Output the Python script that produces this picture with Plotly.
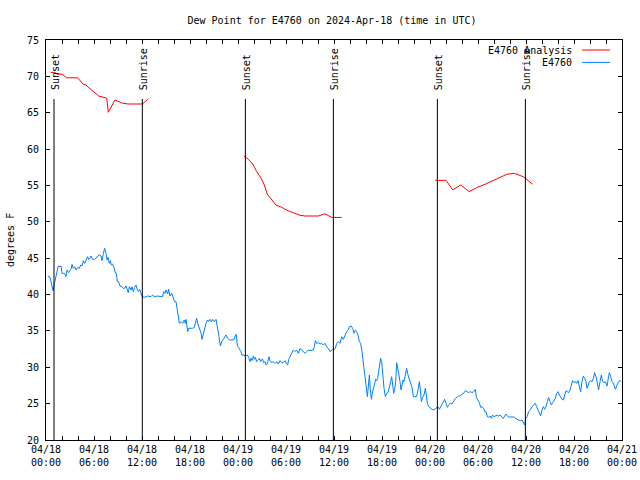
import plotly.graph_objects as go

# ---------------- data ----------------
# hours since 2024-04-18 00:00 UTC
obs_hours = [0.21, 0.5, 0.63, 0.75, 0.88, 0.96, 1.08, 1.25, 1.42, 1.54, 1.75, 1.88, 2.0, 2.29, 2.5, 2.63, 2.83, 3.0, 3.17, 3.25,
             3.42, 3.58, 3.75, 3.96, 4.17, 4.33, 4.5, 4.67, 4.83, 5.0, 5.21, 5.33, 5.5, 5.63, 5.83, 6.08, 6.25, 6.46, 6.67, 6.88,
             7.0, 7.17, 7.33, 7.5, 7.63, 7.75, 7.92, 8.04, 8.17, 8.33, 8.54, 8.67, 8.79, 8.92, 9.08, 9.25, 9.5, 9.67, 9.83, 10.0,
             10.13, 10.29, 10.42, 10.63, 10.75, 10.92, 11.08, 11.25, 11.42, 11.58, 11.71, 11.88, 12.0, 12.29, 12.71, 13.13, 13.33,
             13.54, 13.96, 14.38, 14.58, 14.71, 14.88, 15.0, 15.21, 15.33, 15.5, 15.71, 15.92, 16.08, 16.25, 16.38, 16.54, 16.67,
             16.88, 17.08, 17.29, 17.42, 17.5, 17.63, 17.71, 17.83, 18.0, 18.33, 18.54, 18.67, 18.83, 18.96, 19.08, 19.25, 19.38,
             19.5, 19.67, 19.83, 20.0, 20.17, 20.33, 20.5, 20.67, 20.83, 21.04, 21.25, 21.38, 21.5, 21.63, 21.79, 21.96, 22.17,
             22.33, 22.5, 22.71, 22.92, 23.25, 23.54, 23.67, 23.79, 23.92, 24.08, 24.25, 24.38,
             24.46, 24.75, 24.92, 25.17, 25.33, 25.5, 25.63, 25.75, 25.92, 26.04, 26.17, 26.33, 26.54, 26.67, 26.83, 26.96, 27.08,
             27.21, 27.38, 27.5, 27.67, 27.88, 28.0, 28.21, 28.42, 28.63, 28.83, 29.04, 29.25, 29.46, 29.67, 29.88, 30.08, 30.21,
             30.33, 30.5, 30.71, 30.92, 31.13, 31.33, 31.54, 31.75, 31.96, 32.17, 32.38, 32.58, 32.79, 33.0, 33.21, 33.42, 33.54,
             33.67, 33.83, 34.04, 34.25, 34.46, 34.67, 34.88, 35.08, 35.29, 35.5, 35.67, 35.83, 36.0, 36.17, 36.33, 36.54, 36.75,
             36.96, 37.17, 37.38, 37.58, 37.79, 37.92, 38.13, 38.33, 38.5, 38.67, 38.83, 39.0, 39.17, 39.33, 39.5, 39.67, 39.79,
             39.92, 40.04, 40.17, 40.29, 40.42, 40.54, 40.67, 40.79, 40.92, 41.08, 41.21, 41.33, 41.46, 41.58, 41.71, 41.83, 41.96,
             42.08, 42.25, 42.42, 42.58, 42.75, 42.92, 43.08, 43.21, 43.33, 43.46, 43.58, 43.71, 43.83, 43.96, 44.08, 44.25, 44.38,
             44.5, 44.63, 44.75, 44.92, 45.08, 45.25, 45.42, 45.58, 45.75, 45.92, 46.13, 46.33, 46.54, 46.67,
             46.79, 46.92, 47.08, 47.25, 47.42, 47.54, 47.67, 47.83, 48.04, 48.25, 48.46, 48.67, 48.83, 49.0, 49.17, 49.33, 49.5,
             49.67, 49.83, 50.0, 50.17, 50.33, 50.54, 50.75, 50.96, 51.17, 51.38, 51.58, 51.79, 52.0, 52.21, 52.42, 52.63, 52.83,
             53.04, 53.25, 53.46, 53.67, 53.79, 53.96, 54.17, 54.33, 54.5, 54.71, 54.83, 55.0, 55.17, 55.33, 55.5, 55.67, 55.83,
             56.0, 56.17, 56.38, 56.58, 56.79, 57.0, 57.17, 57.33, 57.5, 57.67, 57.83, 58.04, 58.25, 58.46, 58.67, 58.88, 59.08,
             59.29, 59.5, 59.67, 59.83, 59.96, 60.13, 60.33, 60.54, 60.75, 60.96, 61.17, 61.33, 61.5, 61.67, 61.83, 62.0, 62.17,
             62.33, 62.5, 62.67, 62.83, 63.0, 63.17, 63.33, 63.5, 63.67, 63.83, 64.0, 64.17, 64.33, 64.5, 64.67, 64.83, 65.0,
             65.17, 65.33, 65.5, 65.67, 65.83, 66.0, 66.17, 66.33, 66.5, 66.67, 66.83, 67.0, 67.17, 67.33, 67.5, 67.63, 67.75,
             67.92, 68.08, 68.25, 68.42, 68.58, 68.75, 68.92, 69.08, 69.25, 69.42, 69.58, 69.75, 69.92, 70.13, 70.25, 70.42,
             70.58, 70.75, 70.96, 71.17, 71.38, 71.58, 71.79, 71.92]
obs_dewpt = [42.55, 42.37, 41.77, 41.08, 40.53, 41.08, 41.63, 42.69, 43.15, 43.93, 43.83, 43.93, 42.92, 42.92, 42.46, 43.38, 43.01,
             43.28, 43.6, 44.15, 43.6, 43.83, 43.38, 43.74, 43.6, 44.06, 43.93, 44.66, 44.29, 44.66, 45.21, 44.84, 44.98, 45.3,
             44.84, 44.84, 44.98, 45.3, 45.44, 45.3, 44.66, 45.67, 46.35, 45.67, 44.75, 45.12, 44.29, 44.66, 44.06, 44.2, 43.6,
             42.92, 42.92, 41.77, 41.77, 41.18, 41.08, 40.85, 40.85, 41.18, 40.63, 40.26, 41.08, 40.63, 41.08, 40.4, 40.99, 41.31,
             40.63, 40.4, 40.72, 40.17, 39.71, 39.62, 39.8, 39.71, 39.94, 39.71, 39.8, 39.71, 39.71, 40.4, 40.17, 40.63, 40.08,
             40.72, 39.8, 40.17, 39.48, 39.02, 39.02, 38.1, 36.73, 36.04, 36.27, 36.04, 36.5, 36.04, 36.59, 35.58, 34.9, 35.36,
             35.36, 35.36, 35.49, 36.27, 36.73, 36.04, 35.68, 35.13, 34.67, 33.84, 34.67, 35.49, 36.04, 36.5, 36.27, 36.59, 36.27,
             36.59, 36.27, 36.59, 35.81, 35.49, 34.21, 32.93, 33.52, 33.84, 34.21, 34.44, 33.98, 33.75, 33.75, 33.84, 34.44, 34.53,
             32.93, 32.74, 32.38, 32.15,
             31.69, 31.69, 31.55, 31.69, 31.37, 30.77, 31.23, 30.91, 31.55, 31.09, 31.37, 30.77, 31.0, 31.23, 30.77, 31.09, 31.09,
             30.63, 30.77, 30.31, 30.54, 31.46, 30.91, 30.63, 30.77, 30.54, 30.77, 30.45, 30.91, 30.63, 30.63, 30.91, 30.45, 30.31,
             31.09, 31.46, 31.83, 32.38, 32.15, 32.38, 31.92, 32.6, 32.38, 32.15, 31.92, 32.15, 32.38, 32.28, 32.38, 32.38, 32.83,
             33.66, 33.29, 33.38, 33.2, 33.29, 33.06, 33.29, 32.83, 32.6, 32.15, 32.38, 32.47, 32.38, 32.6, 33.29, 33.52, 33.29,
             34.21, 33.84, 34.44, 34.9, 35.13, 35.58, 35.68, 35.35, 34.67, 35.13, 34.9, 34.44, 33.52, 33.29, 32.15, 30.54, 28.94,
             27.56, 26.65, 25.96, 27.33, 28.94, 26.88, 25.59, 26.42, 27.11, 27.79, 28.34, 28.16, 28.48, 29.4, 30.31, 31.23, 30.77,
             28.94, 27.11, 25.96, 26.42, 26.51, 27.11, 28.02, 28.71, 27.33, 26.42, 26.97, 28.02, 30.63, 30.08, 29.17, 28.02, 26.88,
             27.56, 28.25, 28.02, 28.94, 29.85, 28.94, 28.25, 27.79, 27.24, 25.96, 25.96, 25.96, 27.11, 28.02,
             26.88, 25.28, 25.87, 26.19, 27.11, 25.73, 25.04, 24.58, 24.36, 24.22, 24.13, 24.36, 24.49, 24.58, 24.22, 24.58, 25.04,
             25.27, 25.59, 25.04, 24.49, 24.81, 25.04, 24.95, 25.27, 25.73, 25.87, 26.05, 26.05, 26.33, 26.42, 26.78, 26.65, 26.51,
             26.65, 26.51, 26.65, 26.97, 25.87, 25.5, 25.13, 24.49, 24.58, 24.36, 23.9, 23.9, 23.2, 23.12, 23.3, 22.98, 23.43,
             23.2, 23.3, 23.43, 23.3, 23.43, 23.12, 22.98, 23.3, 23.57, 23.3, 23.12, 23.2, 23.12, 23.2, 22.98, 22.84, 22.75,
             22.66, 22.75, 22.29, 22.06, 22.98, 23.2, 23.9, 24.13, 24.58, 24.81, 25.04, 24.58, 24.13, 23.67, 23.3, 24.13, 24.58,
             24.22, 24.58, 25.27, 25.87, 25.27, 24.81, 25.13, 25.5, 25.73, 26.42, 26.65, 26.19, 25.87, 25.59, 25.5, 26.19, 26.78,
             26.65, 26.51, 26.88, 27.56, 28.16, 27.89, 28.02, 27.79, 28.16, 27.33, 26.65, 28.02, 28.8, 28.48, 28.02, 27.1, 27.56,
             28.02, 28.16, 28.02, 28.48, 29.26, 28.71, 27.56, 26.88, 28.02, 28.94, 28.02, 27.89, 28.02, 27.43, 28.25, 29.26,
             28.71, 28.02, 27.7, 26.97, 27.56, 28.02, 28.16, 28.02]

# analysis, three separate segments
ana1_hours = [0.59, 1.12, 1.37, 2.0, 2.59, 3.96, 4.62, 5.0, 5.71, 6.59, 7.59, 7.79, 8.62, 9.59, 10.29, 12.04, 12.79]
ana1_dewpt = [70.55, 70.55, 70.3, 70.3, 69.8, 69.8, 68.95, 68.8, 68.1, 67.3, 67.0, 65.06, 66.75, 66.3, 66.2, 66.2, 66.9]
ana2_hours = [24.75, 25.29, 25.84, 26.34, 26.88, 27.29, 27.66, 28.21, 28.75, 29.46, 30.09, 30.91, 31.75, 32.38, 34.04, 34.88, 35.71, 36.96]
ana2_dewpt = [59.05, 58.6, 57.95, 56.9, 56.0, 55.06, 53.8, 53.1, 52.3, 52.0, 51.6, 51.25, 50.9, 50.8, 50.8, 51.1, 50.6, 50.6]
ana3_hours = [48.63, 50.0, 50.84, 51.84, 52.91, 53.84, 54.88, 55.84, 56.75, 57.59, 58.54, 59.66, 60.84]
ana3_dewpt = [55.7, 55.7, 54.4, 55.06, 54.15, 54.7, 55.16, 55.65, 56.2, 56.53, 56.67, 56.2, 55.16]

sun_hours = [1.0, 12.04, 24.92, 35.92, 48.92, 59.92]
sun_labels = ["Sunset", "Sunrise", "Sunset", "Sunrise", "Sunset", "Sunrise"]

x_tick_hours = [0, 6, 12, 18, 24, 30, 36, 42, 48, 54, 60, 66, 72]
x_tick_labels = ["04/18<br>00:00", "04/18<br>06:00", "04/18<br>12:00", "04/18<br>18:00",
                 "04/19<br>00:00", "04/19<br>06:00", "04/19<br>12:00", "04/19<br>18:00",
                 "04/20<br>00:00", "04/20<br>06:00", "04/20<br>12:00", "04/20<br>18:00",
                 "04/21<br>00:00"]
y_ticks = [20, 25, 30, 35, 40, 45, 50, 55, 60, 65, 70, 75]

legend_names = ["E4760 Analysis", "E4760"]
RED = "#ff0000"
BLUE = "#0080ff"
FONT = "DejaVu Sans Mono"

# ---------------- figure ----------------
ana_x = ana1_hours + [None] + ana2_hours + [None] + ana3_hours
ana_y = ana1_dewpt + [None] + ana2_dewpt + [None] + ana3_dewpt

fig = go.Figure()
fig.add_trace(go.Scatter(x=ana_x, y=ana_y, mode="lines", name=legend_names[0],
                         line=dict(color=RED, width=1), connectgaps=False, showlegend=False))
fig.add_trace(go.Scatter(x=obs_hours, y=obs_dewpt, mode="lines", name=legend_names[1],
                         line=dict(color=BLUE, width=1), showlegend=False))

for h, lab in zip(sun_hours, sun_labels):
    fig.add_shape(type="line", xref="x", yref="paper", x0=h, x1=h, y0=0, y1=0.8525,
                  line=dict(color="black", width=1))
    fig.add_annotation(x=h, y=0.87, xref="x", yref="paper", text=lab, showarrow=False,
                       textangle=-90, xanchor="center", yanchor="bottom", xshift=1,
                       font=dict(family=FONT, size=10, color="black"))

# custom legend (text right-aligned, sample line to the right)
for i, (name, col) in enumerate(zip(legend_names, [RED, BLUE])):
    ypos = [0.975, 0.944][i]
    fig.add_annotation(x=0.9167, y=ypos, xref="paper", yref="paper", text=name, showarrow=False,
                       xanchor="right", yanchor="middle", font=dict(family=FONT, size=10, color="black"))
    fig.add_shape(type="line", xref="paper", yref="paper", x0=0.9306, x1=0.9792, y0=ypos, y1=ypos,
                  line=dict(color=col, width=1))

fig.add_annotation(x=-0.0625, y=0.5, xref="paper", yref="paper", text="degrees F", showarrow=False,
                   textangle=-90, xanchor="center", yanchor="middle",
                   font=dict(family=FONT, size=10, color="black"))

fig.update_layout(
    width=640, height=480,
    margin=dict(l=46, r=18, t=40, b=40, autoexpand=False),
    paper_bgcolor="white", plot_bgcolor="white",
    font=dict(family=FONT, size=10, color="black"),
    title=dict(text="Dew Point for E4760 on 2024-Apr-18 (time in UTC)", x=332/640, xanchor="center",
               y=1 - 20/480, yanchor="middle", font=dict(family=FONT, size=10, color="black")),
    showlegend=False,
)
fig.update_xaxes(range=[0, 72], tickmode="array", tickvals=x_tick_hours, ticktext=x_tick_labels,
                 ticks="inside", ticklen=4, tickcolor="black", showgrid=False, zeroline=False,
                 showline=True, linecolor="black", linewidth=1, mirror="allticks", automargin=False,
                 minor=dict(ticks="inside", dtick=2, tick0=0, ticklen=4, tickcolor="black", showgrid=False))
fig.update_yaxes(range=[20, 75], tickmode="array", tickvals=y_ticks, automargin=False,
                 ticks="inside", ticklen=4, tickcolor="black", showgrid=False, zeroline=False,
                 showline=True, linecolor="black", linewidth=1, mirror="allticks", ticklabelstandoff=4)

fig.write_html("out.html")
